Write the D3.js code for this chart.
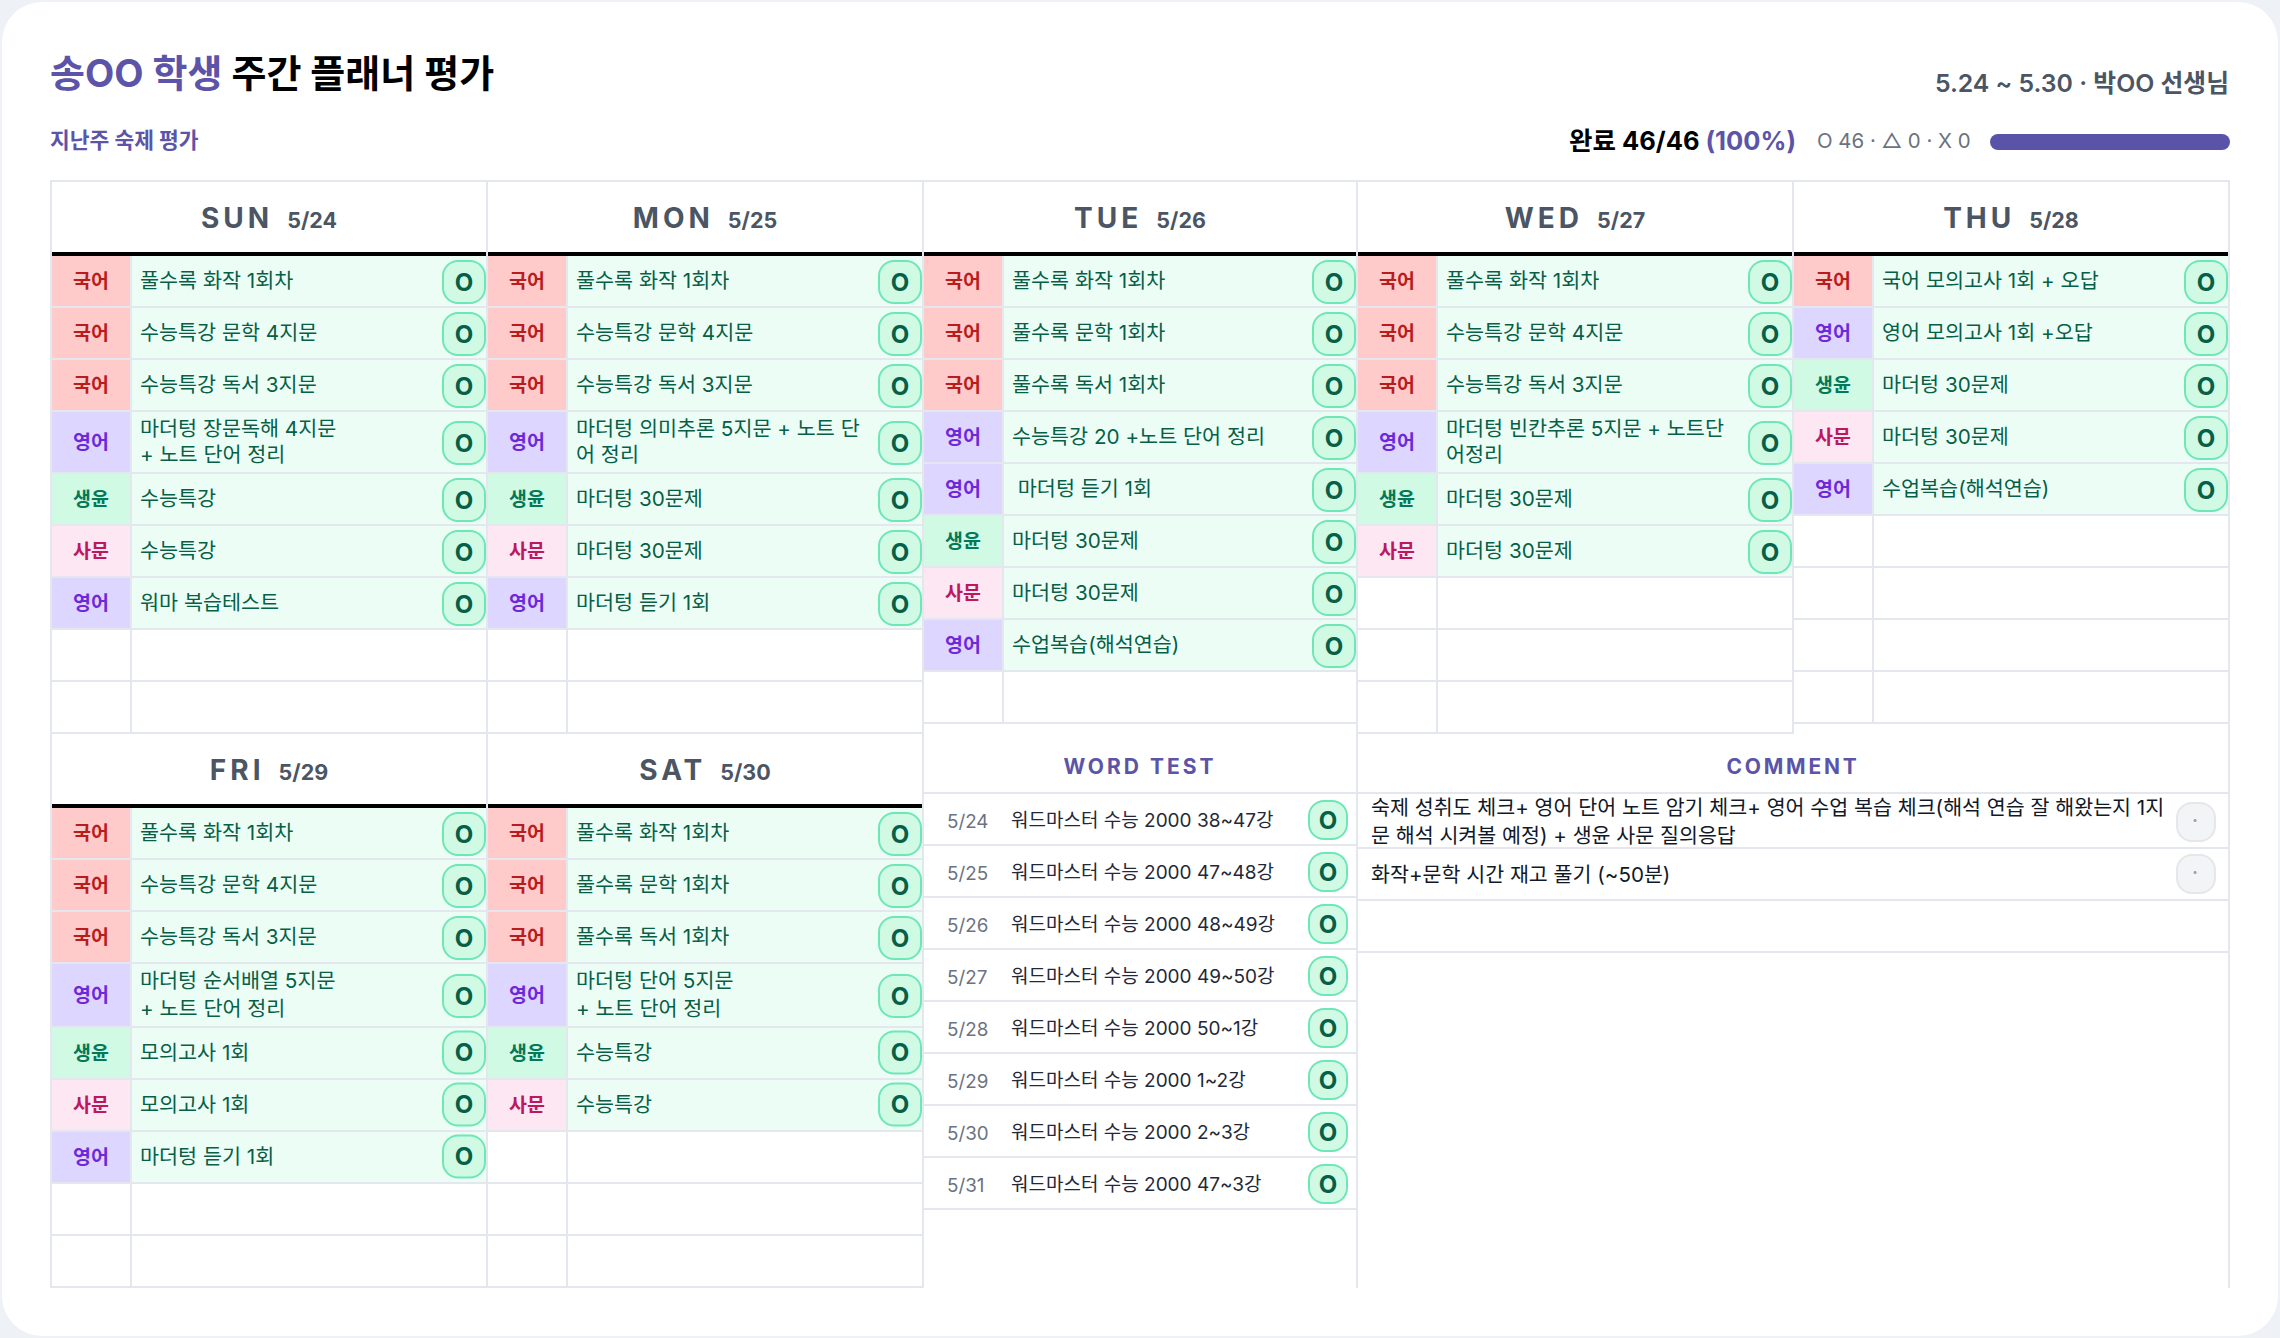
<!DOCTYPE html>
<html lang="ko">
<head>
<meta charset="utf-8">
<title>주간 플래너 평가</title>
<script src="https://cdn.jsdelivr.net/npm/d3@7"></script>
<style>
    html, body { margin: 0; padding: 0; background: #eef1f6; }
    svg { display: block; }
    text { font-family: Inter, "Noto Sans CJK KR", sans-serif; white-space: pre; }
</style>
</head>
<body>
<script>
const sunTasks = [
    ["국어", "풀수록 화작 1회차"],
    ["국어", "수능특강 문학 4지문"],
    ["국어", "수능특강 독서 3지문"],
    ["영어", "마더텅 장문독해 4지문\n+ 노트 단어 정리"],
    ["생윤", "수능특강"],
    ["사문", "수능특강"],
    ["영어", "워마 복습테스트"],
];
const monTasks = [
    ["국어", "풀수록 화작 1회차"],
    ["국어", "수능특강 문학 4지문"],
    ["국어", "수능특강 독서 3지문"],
    ["영어", "마더텅 의미추론 5지문 + 노트 단\n어 정리"],
    ["생윤", "마더텅 30문제"],
    ["사문", "마더텅 30문제"],
    ["영어", "마더텅 듣기 1회"],
];
const tueTasks = [
    ["국어", "풀수록 화작 1회차"],
    ["국어", "풀수록 문학 1회차"],
    ["국어", "풀수록 독서 1회차"],
    ["영어", "수능특강 20 +노트 단어 정리"],
    ["영어", " 마더텅 듣기 1회"],
    ["생윤", "마더텅 30문제"],
    ["사문", "마더텅 30문제"],
    ["영어", "수업복습(해석연습)"],
];
const wedTasks = [
    ["국어", "풀수록 화작 1회차"],
    ["국어", "수능특강 문학 4지문"],
    ["국어", "수능특강 독서 3지문"],
    ["영어", "마더텅 빈칸추론 5지문 + 노트단\n어정리"],
    ["생윤", "마더텅 30문제"],
    ["사문", "마더텅 30문제"],
];
const thuTasks = [
    ["국어", "국어 모의고사 1회 + 오답"],
    ["영어", "영어 모의고사 1회 +오답"],
    ["생윤", "마더텅 30문제"],
    ["사문", "마더텅 30문제"],
    ["영어", "수업복습(해석연습)"],
];
const friTasks = [
    ["국어", "풀수록 화작 1회차"],
    ["국어", "수능특강 문학 4지문"],
    ["국어", "수능특강 독서 3지문"],
    ["영어", "마더텅 순서배열 5지문\n+ 노트 단어 정리"],
    ["생윤", "모의고사 1회"],
    ["사문", "모의고사 1회"],
    ["영어", "마더텅 듣기 1회"],
];
const satTasks = [
    ["국어", "풀수록 화작 1회차"],
    ["국어", "풀수록 문학 1회차"],
    ["국어", "풀수록 독서 1회차"],
    ["영어", "마더텅 단어 5지문\n+ 노트 단어 정리"],
    ["생윤", "수능특강"],
    ["사문", "수능특강"],
];

const topDays = ["SUN", "MON", "TUE", "WED", "THU"];
const topDates = ["5/24", "5/25", "5/26", "5/27", "5/28"];
const topTasks = [sunTasks, monTasks, tueTasks, wedTasks, thuTasks];
const bottomDays = ["FRI", "SAT"];
const bottomDates = ["5/29", "5/30"];
const bottomTasks = [friTasks, satTasks];

const wordDates = ["5/24", "5/25", "5/26", "5/27", "5/28", "5/29", "5/30", "5/31"];
const wordTexts = [
    "워드마스터 수능 2000 38~47강",
    "워드마스터 수능 2000 47~48강",
    "워드마스터 수능 2000 48~49강",
    "워드마스터 수능 2000 49~50강",
    "워드마스터 수능 2000 50~1강",
    "워드마스터 수능 2000 1~2강",
    "워드마스터 수능 2000 2~3강",
    "워드마스터 수능 2000 47~3강",
];
const comments = [
    "숙제 성취도 체크+ 영어 단어 노트 암기 체크+ 영어 수업 복습 체크(해석 연습 잘 해왔는지 1지\n문 해석 시켜볼 예정) + 생윤 사문 질의응답",
    "화작+문학 시간 재고 풀기 (~50분)",
    "",
];

const subjectBg = { 국어: "#fecaca", 영어: "#ddd6fe", 생윤: "#d1fae5", 사문: "#fce7f3" };
const subjectInk = { 국어: "#b91c1c", 영어: "#6d28d9", 생윤: "#047857", 사문: "#be185d" };

const width = 2280;
const height = 1338;
const grid = "#e5e7ef";
const indigo = "#5b54a8";
const gap = 2;
const rowCount = 9;

const svg = d3.select("body").append("svg").attr("width", width).attr("height", height);

svg.append("rect")
    .attr("x", 2).attr("y", 2)
    .attr("width", width - 4).attr("height", height - 4)
    .attr("rx", 40)
    .attr("fill", "#fff");

// column edges are not even, the source table rounds them
const xCol = d3.scaleLinear().domain([0, 1, 2, 3, 4, 5]).range([50, 486, 922, 1356, 1792, 2228]);

function label(g, x, y, str, size, weight, fill, anchor) {
    return g.append("text")
        .attr("x", x).attr("y", y)
        .attr("font-size", size)
        .attr("font-weight", weight)
        .attr("fill", fill)
        .attr("text-anchor", anchor || "start")
        .text(str);
}

function doneBadge(g, x, y, size, mark) {
    g.append("rect")
        .attr("x", x + 1).attr("y", y + 1)
        .attr("width", size - 2).attr("height", size - 2)
        .attr("rx", 15)
        .attr("fill", "#d1fae5")
        .attr("stroke", "#6ee7b7")
        .attr("stroke-width", 2);
    label(g, x + size / 2, y + size / 2 + 8.5, mark, 24, 700, "#065f46", "middle");
}

// one day column: grid behind, cells leave the gap open
function dayColumn(g, opts) {
    const left = xCol(opts.col);
    const right = xCol(opts.col + 1);
    const tasks = opts.tasks;
    const heights = d3.range(rowCount).map((i) =>
        tasks[i] && tasks[i][1].includes("\n") ? opts.tallRow : 52
    );
    const tops = heights.map((h, i) => opts.bodyTop + d3.sum(heights.slice(0, i)));
    const bottom = opts.bodyTop + d3.sum(heights);

    g.append("rect")
        .attr("x", left).attr("y", opts.top)
        .attr("width", right - left + gap).attr("height", bottom - opts.top)
        .attr("fill", grid);
    g.append("rect")
        .attr("x", left + gap).attr("y", opts.top + gap)
        .attr("width", right - left - gap).attr("height", opts.bodyTop - opts.top - gap)
        .attr("fill", "#fff");
    g.append("rect")
        .attr("x", left + gap).attr("y", opts.bodyTop - 4)
        .attr("width", right - left - gap).attr("height", 4)
        .attr("fill", "#000");

    const head = label(g, (left + gap + right) / 2, opts.bodyTop - 28, "", 28, 700, "#4b5563", "middle");
    head.append("tspan").attr("letter-spacing", 4).text(opts.day);
    head.append("tspan").attr("font-size", 21.5).attr("dx", 14).text(opts.date);

    const subjectX = left + gap;
    const textX = left + 82;
    let passedTall = false;

    d3.range(rowCount).forEach((i) => {
        const task = tasks[i];
        const y = tops[i];
        const h = heights[i] - gap;
        g.append("rect")
            .attr("x", subjectX).attr("y", y)
            .attr("width", 78).attr("height", h)
            .attr("fill", task ? subjectBg[task[0]] : "#fff");
        g.append("rect")
            .attr("x", textX).attr("y", y)
            .attr("width", right - textX).attr("height", h)
            .attr("fill", task ? "#ecfdf5" : "#fff");
        if (!task) return;

        label(g, subjectX + 39, y + h / 2 + 6.5, task[0], 19.5, 700, subjectInk[task[0]], "middle");
        const lines = task[1].split("\n");
        const firstBase = y + h / 2 + 7 - (lines.length - 1) * opts.lineGap / 2;
        lines.forEach((line, j) => {
            label(g, textX + 8, firstBase + j * opts.lineGap, line, 20.7, 400, "#065f46");
        });
        // badges sit a little higher below the tall row in the lower block
        const shift = passedTall ? opts.belowTallShift : 0;
        doneBadge(g, right - 44, y + h / 2 - 21 + shift, 44, "O");
        if (lines.length > 1) passedTall = true;
    });
}

const topBlock = svg.append("g").attr("class", "top-days");
topDays.forEach((day, i) => {
    dayColumn(topBlock, {
        col: i, day, date: topDates[i], tasks: topTasks[i],
        top: 180, bodyTop: 256, tallRow: 62, lineGap: 26.7, belowTallShift: 0,
    });
});

const bottomBlock = svg.append("g").attr("class", "bottom-days");
bottomDays.forEach((day, i) => {
    dayColumn(bottomBlock, {
        col: i, day, date: bottomDates[i], tasks: bottomTasks[i],
        top: 732, bodyTop: 808, tallRow: 64, lineGap: 28, belowTallShift: -1.5,
    });
});

// word test panel
const word = svg.append("g").attr("class", "word-test");
const wordLeft = xCol(2);
const wordRight = xCol(3);
const wordY = d3.scaleLinear().domain([0, 1]).range([794, 846]);
word.append("rect").attr("x", wordLeft).attr("y", 722)
    .attr("width", wordRight - wordLeft + gap).attr("height", 2).attr("fill", grid);
word.append("rect").attr("x", wordLeft).attr("y", 722)
    .attr("width", gap).attr("height", 1288 - 722).attr("fill", grid);
word.append("rect").attr("x", wordLeft).attr("y", 792)
    .attr("width", wordRight - wordLeft).attr("height", 2).attr("fill", grid);
label(word, (wordLeft + gap + wordRight) / 2, 774, "WORD TEST", 21, 700, indigo, "middle").attr("letter-spacing", 3);
wordDates.forEach((d, i) => {
    const y = wordY(i);
    word.append("rect").attr("x", wordLeft).attr("y", y + 50)
        .attr("width", wordRight - wordLeft).attr("height", 2).attr("fill", grid);
    label(word, wordLeft + 25, y + 34, d, 18.8, 400, "#6b7280");
    label(word, wordLeft + 89, y + 33, wordTexts[i], 19, 400, "#1f2937");
    doneBadge(word, wordRight - 48, y + 6, 40, "O");
});

// comment panel
const note = svg.append("g").attr("class", "comment");
const noteLeft = xCol(3);
const noteRight = xCol(5);
note.append("rect").attr("x", noteLeft).attr("y", 732)
    .attr("width", gap).attr("height", 1288 - 732).attr("fill", grid);
note.append("rect").attr("x", noteRight).attr("y", 722)
    .attr("width", gap).attr("height", 1288 - 722).attr("fill", grid);
note.append("rect").attr("x", noteLeft).attr("y", 792)
    .attr("width", noteRight - noteLeft).attr("height", 2).attr("fill", grid);
label(note, (noteLeft + gap + noteRight) / 2, 774, "COMMENT", 21, 700, indigo, "middle").attr("letter-spacing", 2.8);
const noteHeights = [55, 52, 52];
comments.forEach((c, i) => {
    const y = 794 + d3.sum(noteHeights.slice(0, i));
    const h = noteHeights[i];
    note.append("rect").attr("x", noteLeft).attr("y", y + h - gap)
        .attr("width", noteRight - noteLeft).attr("height", gap).attr("fill", grid);
    if (!c) return;
    const lines = c.split("\n");
    const first = y + h / 2 + 7 - (lines.length - 1) * 14;
    lines.forEach((line, j) => {
        label(note, noteLeft + 15, first + j * 28, line, 20.6, 400, "#111827");
    });
    const badgeTop = y + h - 47;
    note.append("rect")
        .attr("x", noteRight - 52 + 1).attr("y", badgeTop + 1)
        .attr("width", 38).attr("height", 38)
        .attr("rx", 15)
        .attr("fill", "#f3f4f6")
        .attr("stroke", "#e5e7eb")
        .attr("stroke-width", 2);
    label(note, noteRight - 33, badgeTop + 25, "·", 18, 700, "#9ca3af", "middle");
});

// page heading
const head = svg.append("g").attr("class", "heading");
const title = label(head, 50, 87, "", 38, 700, "#000");
title.append("tspan").attr("fill", indigo).text("송OO 학생");
title.append("tspan").text(" 주간 플래너 평가");
label(head, 50, 148, "지난주 숙제 평가", 21.5, 700, indigo);
label(head, 2229, 92, "5.24 ~ 5.30 · 박OO 선생님", 24.8, 600, "#4b5563", "end");

const done = label(head, 1796, 150, "", 25.5, 700, "#000", "end");
done.append("tspan").text("완료 46/46 ");
done.append("tspan").attr("fill", indigo).text("(100%)");
label(head, 1817, 148, "O 46 · △ 0 · X 0", 20.4, 400, "#6b7280");

const barX = d3.scaleLinear().domain([0, 46]).range([1990, 2230]);
head.append("rect")
    .attr("x", barX(0)).attr("y", 134)
    .attr("width", barX(46) - barX(0)).attr("height", 16)
    .attr("rx", 8)
    .attr("fill", "#5a54a8");
</script>
</body>
</html>
